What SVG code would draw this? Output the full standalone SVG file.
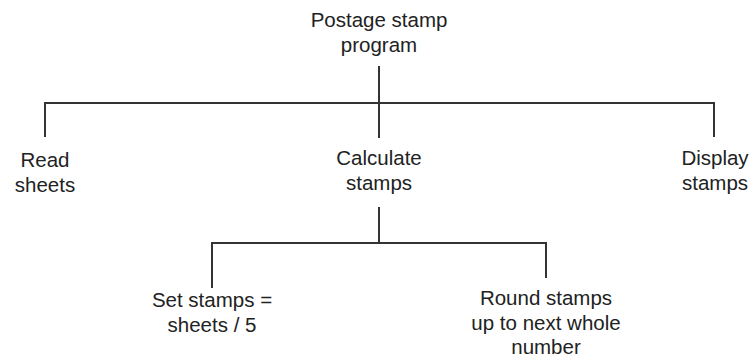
<svg xmlns="http://www.w3.org/2000/svg" width="751" height="360" viewBox="0 0 751 360">
<style>
.t{font-family:"Liberation Sans",Arial,Helvetica,sans-serif;font-size:20.5px;fill:#222;text-anchor:middle}
.c{stroke:#333;stroke-width:2;fill:none}
</style>
<rect width="751" height="360" fill="#fff"/>
<g id="connectors">
<path class="c" d="M379 66V138M45 137V103H714V137"/>
<path class="c" d="M379 207V243M212 288V243H546V278"/>
</g>
<g id="root"><text class="t" x="379" y="27">Postage stamp</text><text class="t" x="379" y="52">program</text></g>
<g id="read"><text class="t" x="45" y="166.5">Read</text><text class="t" x="45" y="191.5">sheets</text></g>
<g id="calc"><text class="t" x="379" y="165">Calculate</text><text class="t" x="379" y="190">stamps</text></g>
<g id="display"><text class="t" x="715" y="165">Display</text><text class="t" x="715" y="190">stamps</text></g>
<g id="set"><text class="t" x="212" y="306.5">Set stamps =</text><text class="t" x="212" y="331.5">sheets / 5</text></g>
<g id="round"><text class="t" x="546" y="305">Round stamps</text><text class="t" x="546" y="330">up to next whole</text><text class="t" x="546" y="354">number</text></g>
</svg>
